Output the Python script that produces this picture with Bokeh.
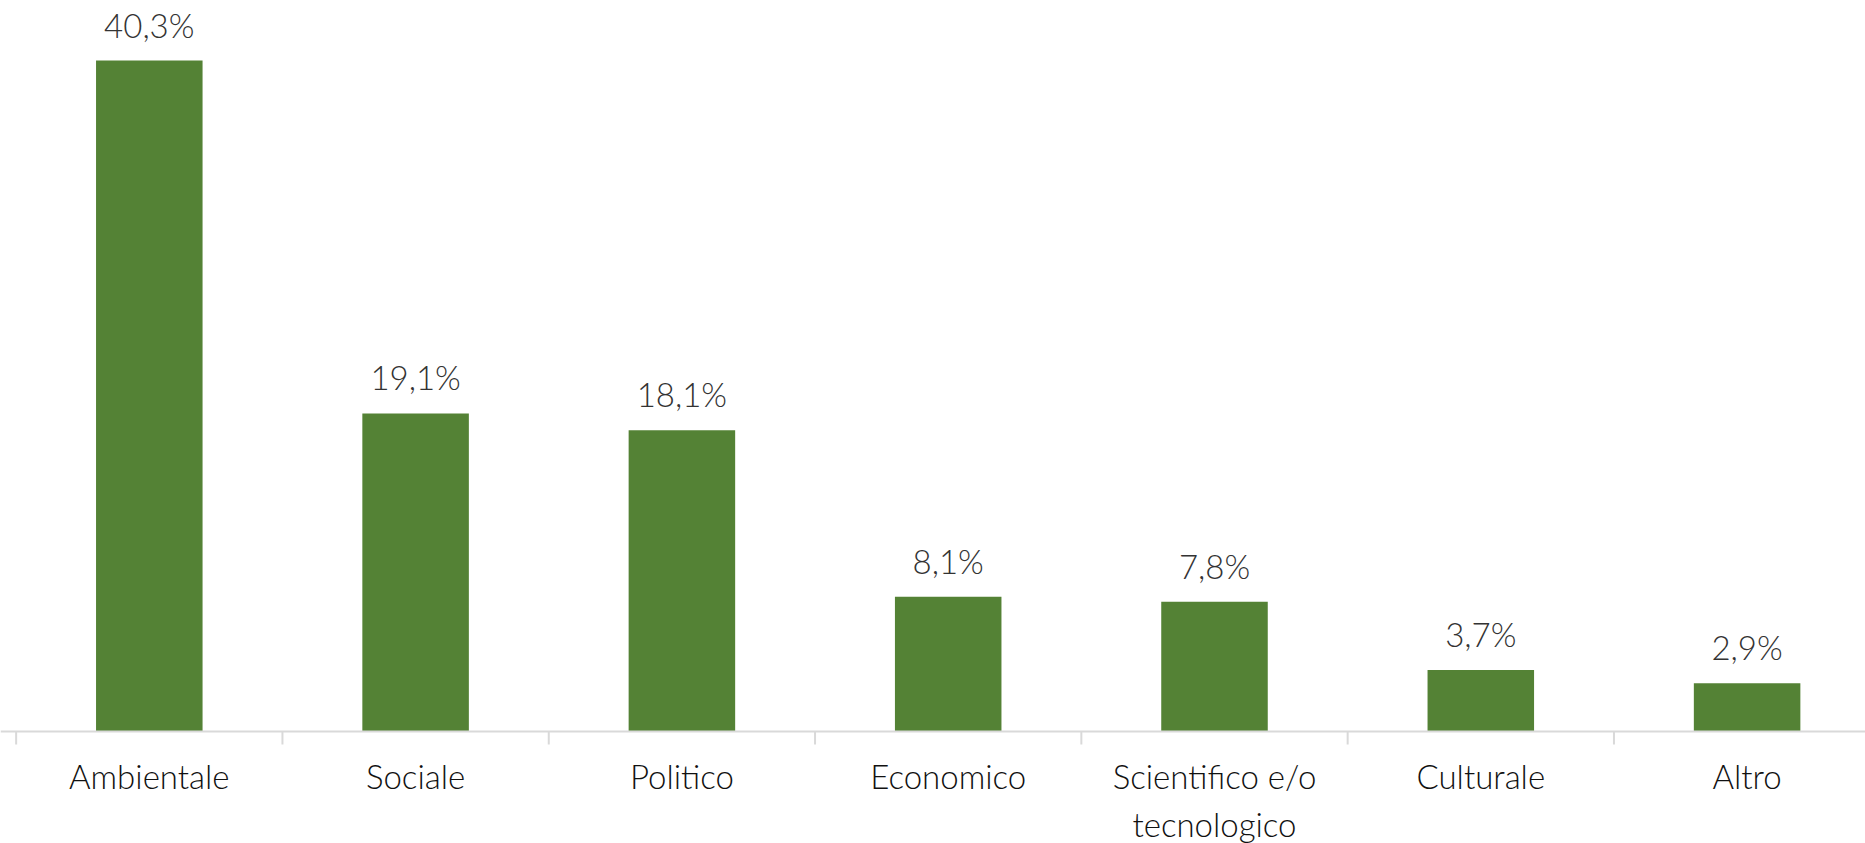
import math
from bokeh.plotting import figure
from bokeh.models import Range1d, Span, ColumnDataSource
from bokeh.core.properties import value
from bokeh.embed import file_html
from bokeh.resources import INLINE

categories = ["Ambientale", "Sociale", "Politico", "Economico",
              "Scientifico e/o\ntecnologico", "Culturale", "Altro"]
percentages = [40.3, 19.1, 18.1, 8.1, 7.8, 3.7, 2.9]
value_labels = [f"{v:.1f}".replace(".", ",") + "%" for v in percentages]

# layout (pixels)
W, H = 1865, 843
cat_px = 266.3           # width of one category
first_center_px = 148.8  # centre of first category from figure left
base_px = 731.0          # baseline from figure top
unit_px = 16.65          # pixels per percentage point

x_idx = list(range(len(categories)))
bounds = [i - 0.5 for i in x_idx]

x0 = -first_center_px / cat_px
x1 = (W - first_center_px) / cat_px
y1 = base_px / unit_px
y0 = -(H - base_px) / unit_px

p = figure(width=W, height=H, x_range=Range1d(x0, x1), y_range=Range1d(y0, y1),
           output_backend="svg", toolbar_location=None, min_border=0)
p.axis.visible = False
p.grid.visible = False
p.outline_line_color = None
p.background_fill_color = "white"
p.border_fill_color = "white"

src = ColumnDataSource(dict(x=x_idx, top=percentages, lab=value_labels, cat=categories))

p.vbar(x="x", top="top", bottom=0, width=0.4, source=src,
       fill_color="#548235", line_color=None)

# axis line and boundary ticks
p.add_layout(Span(location=0, dimension="width", line_color="#d9d9d9", line_width=2))
p.ray(x=bounds, y=[0] * len(bounds), length=13, length_units="screen",
      angle=-math.pi / 2, line_color="#d9d9d9", line_width=2)

# value labels
p.text(x="x", y="top", text="lab", source=src, text_align="center",
       text_baseline="alphabetic", y_offset=-36,
       text_font=value("Lato Light"), text_font_size="33px", text_color="#333333")

# category labels
p.text(x="x", y=0, text="cat", source=src, text_align="center",
       text_baseline="top", y_offset=24, text_line_height=1.2,
       text_font=value("Lato Light"), text_font_size="33px", text_color="#111111")

open("out.html", "w").write(file_html(p, INLINE))
